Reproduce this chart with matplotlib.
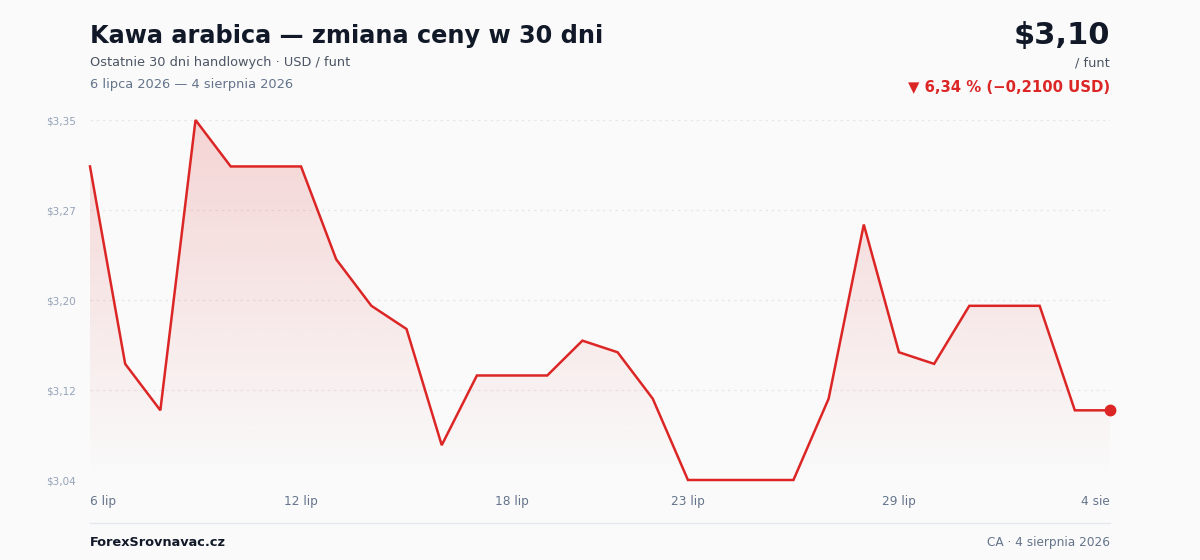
# arabica coffee - 30 day price change

import numpy as np
import pandas as pd
import matplotlib
matplotlib.use("Agg")
import matplotlib.pyplot as plt
import matplotlib.dates as mdates
from matplotlib.patches import Polygon

dates = pd.date_range("2026-07-06", "2026-08-04", freq="D")
prices = [3.31, 3.14, 3.10, 3.35, 3.31, 3.31, 3.31, 3.23, 3.19, 3.17,
          3.07, 3.13, 3.13, 3.13, 3.16, 3.15, 3.11, 3.04, 3.04, 3.04,
          3.04, 3.11, 3.26, 3.15, 3.14, 3.19, 3.19, 3.19, 3.10, 3.10]
tick_dates = ["2026-07-06", "2026-07-12", "2026-07-18", "2026-07-23", "2026-07-29", "2026-08-04"]
tick_labels = ["6 lip", "12 lip", "18 lip", "23 lip", "29 lip", "4 sie"]
y_ticks = [3.04, 3.1175, 3.195, 3.2725, 3.35]
y_labels = ["$3,04", "$3,12", "$3,20", "$3,27", "$3,35"]

RED = "#dc2626"
BG = "#fafafa"

plt.rcParams["font.family"] = ["DejaVu Sans"]
fig = plt.figure(figsize=(12, 5.6), dpi=100, facecolor=BG)
ax = fig.add_axes([90 / 1200, 1 - 480 / 560, 1020 / 1200, 360 / 560])
ax.set_facecolor(BG)

x = mdates.date2num(dates)
ymin, ymax = 3.04, 3.35
ax.set_xlim(x[0], x[-1])
ax.set_ylim(ymin, ymax)

# gradient fill under the line
grad = np.zeros((256, 1, 4))
grad[..., 0:3] = matplotlib.colors.to_rgb(RED)
grad[:, 0, 3] = np.linspace(0.18, 0.0, 256)
im = ax.imshow(grad, extent=[x[0], x[-1], ymin, ymax], aspect="auto",
               origin="upper", zorder=1, interpolation="bilinear")
verts = [(x[0], ymin)] + list(zip(x, prices)) + [(x[-1], ymin)]
clip = Polygon(verts, closed=True, facecolor="none", edgecolor="none")
ax.add_patch(clip)
im.set_clip_path(clip)

for yt in y_ticks:
    ax.axhline(yt, color="#e5e7eb", lw=0.9, ls=(0, (2, 3)), zorder=0.5)

ax.plot(x, prices, color=RED, lw=1.8, zorder=3, clip_on=False, solid_joinstyle="miter")
ax.plot(x[-1], prices[-1], "o", color=RED, ms=7.5, zorder=4, clip_on=False)

for s in ax.spines.values():
    s.set_visible(False)
ax.set_yticks(y_ticks)
ax.set_yticklabels(y_labels, color="#94a3b8", fontsize=7.5)
ax.set_xticks(mdates.date2num(pd.to_datetime(tick_dates)))
ax.set_xticklabels(tick_labels, color="#64748b", fontsize=8.7)
ax.tick_params(length=0)
ax.tick_params(axis="y", pad=10)
ax.tick_params(axis="x", pad=11)
xl = ax.get_xticklabels()
xl[0].set_ha("left")
xl[-1].set_ha("right")

# header
fig.text(90 / 1200, 1 - 43 / 560, "Kawa arabica — zmiana ceny w 30 dni",
         fontsize=17.3, fontweight="bold", color="#111827", va="baseline")
fig.text(90 / 1200, 1 - 66 / 560, "Ostatnie 30 dni handlowych · USD / funt",
         fontsize=9.3, color="#4b5563", va="baseline")
fig.text(90 / 1200, 1 - 88 / 560, "6 lipca 2026 — 4 sierpnia 2026",
         fontsize=9.35, color="#64748b", va="baseline")
fig.text(1110 / 1200, 1 - 44 / 560, "$3,10", fontsize=22, fontweight="bold",
         color="#111827", ha="right", va="baseline")
fig.text(1110 / 1200, 1 - 66 / 560, "/ funt", fontsize=9.3, color="#4b5563",
         ha="right", va="baseline")
fig.text(1110 / 1200, 1 - 92 / 560, "▼ 6,34 % (−0,2100 USD)", fontsize=10.7,
         fontweight="bold", color=RED, ha="right", va="baseline")

# footer
fig.add_artist(plt.Line2D([90 / 1200, 1110 / 1200], [1 - 523 / 560] * 2,
                          color="#e5e7eb", lw=1, transform=fig.transFigure))
fig.text(90 / 1200, 1 - 546 / 560, "ForexSrovnavac.cz", fontsize=9.3,
         fontweight="bold", color="#111827", va="baseline")
fig.text(1110 / 1200, 1 - 546 / 560, "CA · 4 sierpnia 2026", fontsize=8.7,
         color="#64748b", ha="right", va="baseline")

fig.savefig("out.png", dpi=100, facecolor=BG)
